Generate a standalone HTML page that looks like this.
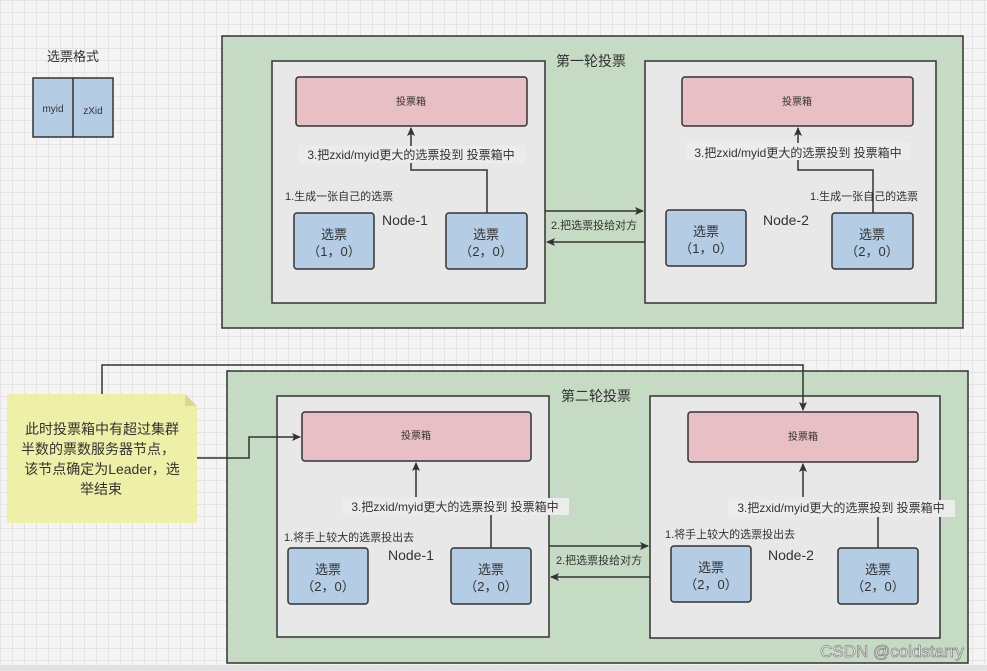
<!DOCTYPE html>
<html><head><meta charset="utf-8"><style>
html,body{margin:0;padding:0;}
body{width:987px;height:671px;overflow:hidden;background-color:#f4f4f4;
background-image:linear-gradient(#e4e4e4 1px,transparent 1px),linear-gradient(90deg,#e4e4e4 1px,transparent 1px);background-size:12px 12px;}
svg{position:absolute;left:0;top:0;}
text{font-family:"Liberation Sans","Noto Sans CJK SC",sans-serif;fill:#333;}
</style></head><body>
<svg width="987" height="671" viewBox="0 0 987 671">
<defs><marker id="a" markerWidth="10" markerHeight="10" refX="8" refY="5" orient="auto" markerUnits="userSpaceOnUse"><path d="M0,1 L9,5 L0,9 L2,5 Z" fill="#333"/></marker></defs>
<rect x="0" y="665" width="987" height="6" fill="#e2e2e2"/>
<!-- format -->
<text x="47" y="61" font-size="13">选票格式</text>
<rect x="33" y="78" width="80" height="59" fill="#b5cde4" stroke="#333" stroke-width="1.5"/>
<line x1="73" y1="78" x2="73" y2="137" stroke="#333" stroke-width="1.5"/>
<text x="53" y="112" font-size="10" text-anchor="middle">myid</text>
<text x="93" y="114" font-size="10" text-anchor="middle">zXid</text>

<g stroke="#333" stroke-width="1.5">
<rect x="222" y="36" width="741" height="292" fill="#c5dbc3"/>
<rect x="272" y="61" width="273" height="242" fill="#e8e8e8"/>
<rect x="645" y="61" width="291" height="242" fill="#e8e8e8"/>
<rect x="296" y="77" width="231" height="49" rx="3" fill="#e7bfc4"/>
<rect x="682" y="77" width="231" height="49" rx="3" fill="#e7bfc4"/>
<rect x="294" y="213" width="80" height="56" rx="3" fill="#b5cde4"/>
<rect x="446" y="213" width="81" height="56" rx="3" fill="#b5cde4"/>
<rect x="666" y="210" width="80" height="56" rx="3" fill="#b5cde4"/>
<rect x="832" y="213" width="81" height="56" rx="3" fill="#b5cde4"/>

<rect x="227" y="371" width="741" height="292" fill="#c5dbc3"/>
<rect x="277" y="396" width="272" height="241" fill="#e8e8e8"/>
<rect x="650" y="396" width="290" height="242" fill="#e8e8e8"/>
<rect x="302" y="412" width="229" height="49" rx="3" fill="#e7bfc4"/>
<rect x="688" y="412" width="230" height="50" rx="3" fill="#e7bfc4"/>
<rect x="288" y="548" width="80" height="56" rx="3" fill="#b5cde4"/>
<rect x="451" y="548" width="80" height="56" rx="3" fill="#b5cde4"/>
<rect x="671" y="546" width="80" height="56" rx="3" fill="#b5cde4"/>
<rect x="838" y="548" width="80" height="56" rx="3" fill="#b5cde4"/>
</g>
<!-- note -->
<path d="M7,394 L185,394 L197,406 L197,523 L7,523 Z" fill="#eef0a8"/>
<path d="M185,394 L185,406 L197,406 Z" fill="#d8da90"/>

<g stroke="#333" stroke-width="1.5" fill="none">
<polyline points="487,213 487,170 411,170 411,128" marker-end="url(#a)"/>
<polyline points="873,213 873,170 798,170 798,128" marker-end="url(#a)"/>
<line x1="545" y1="211" x2="643" y2="211" marker-end="url(#a)"/>
<line x1="645" y1="242" x2="547" y2="242" marker-end="url(#a)"/>
<line x1="416" y1="497" x2="416" y2="463" marker-end="url(#a)"/>
<line x1="491" y1="515" x2="491" y2="548"/>
<line x1="803" y1="497" x2="803" y2="464" marker-end="url(#a)"/>
<line x1="878" y1="515" x2="878" y2="548"/>
<line x1="549" y1="546" x2="648" y2="546" marker-end="url(#a)"/>
<line x1="650" y1="577" x2="551" y2="577" marker-end="url(#a)"/>
<polyline points="102,394 102,365 803,365 803,410" marker-end="url(#a)"/>
<polyline points="197,458 249,458 249,437 300,437" marker-end="url(#a)"/>
</g>

<g font-size="12">
<rect x="299" y="146" width="226" height="17" fill="#ececec"/>
<text x="411" y="159" text-anchor="middle">3.把zxid/myid更大的选票投到 投票箱中</text>
<rect x="685" y="143" width="226" height="17" fill="#ececec"/>
<text x="798" y="157" text-anchor="middle">3.把zxid/myid更大的选票投到 投票箱中</text>
<rect x="342" y="498" width="227" height="17" fill="#ececec"/>
<text x="455" y="511" text-anchor="middle">3.把zxid/myid更大的选票投到 投票箱中</text>
<rect x="728" y="500" width="227" height="17" fill="#ececec"/>
<text x="841" y="512" text-anchor="middle">3.把zxid/myid更大的选票投到 投票箱中</text>
</g>
<g font-size="11">
<text x="285" y="200">1.生成一张自己的选票</text>
<text x="810" y="200">1.生成一张自己的选票</text>
<text x="284" y="541">1.将手上较大的选票投出去</text>
<text x="665" y="538">1.将手上较大的选票投出去</text>
<text x="551" y="229">2.把选票投给对方</text>
<text x="556" y="564">2.把选票投给对方</text>
</g>
<g font-size="10" text-anchor="middle">
<text x="411" y="105">投票箱</text>
<text x="797" y="105">投票箱</text>
<text x="416" y="439">投票箱</text>
<text x="803" y="440">投票箱</text>
</g>
<g font-size="14">
<text x="556" y="66">第一轮投票</text>
<text x="561" y="401">第二轮投票</text>
<text x="382" y="225">Node-1</text>
<text x="763" y="225">Node-2</text>
<text x="388" y="560">Node-1</text>
<text x="768" y="560">Node-2</text>
</g>
<g font-size="13" text-anchor="middle">
<text x="334" y="239">选票</text><text x="334" y="256">（1，0）</text>
<text x="486" y="239">选票</text><text x="486" y="256">（2，0）</text>
<text x="706" y="236">选票</text><text x="706" y="253">（1，0）</text>
<text x="872" y="239">选票</text><text x="872" y="256">（2，0）</text>
<text x="328" y="574">选票</text><text x="328" y="591">（2，0）</text>
<text x="491" y="574">选票</text><text x="491" y="591">（2，0）</text>
<text x="711" y="572">选票</text><text x="711" y="589">（2，0）</text>
<text x="878" y="574">选票</text><text x="878" y="591">（2，0）</text>
</g>
<g font-size="14" text-anchor="middle">
<text x="102" y="434">此时投票箱中有超过集群</text>
<text x="98" y="454">半数的票数服务器节点，</text>
<text x="102" y="474">该节点确定为Leader，选</text>
<text x="101" y="494">举结束</text>
</g>
<text x="892" y="657" font-size="17" text-anchor="middle" style="fill:#fff;stroke:#888;stroke-width:0.8">CSDN @coldstarry</text>
</svg>
</body></html>
